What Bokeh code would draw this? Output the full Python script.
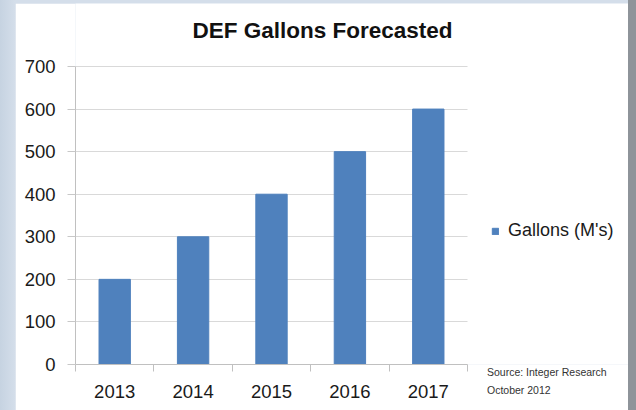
from bokeh.plotting import figure
from bokeh.models import Range1d, FixedTicker, Legend, LegendItem, Div, Label
from bokeh.layouts import column
from bokeh.embed import file_html
from bokeh.resources import INLINE

# ---- data ----
years = ["2013", "2014", "2015", "2016", "2017"]
gallons = [200, 300, 400, 500, 600]
y_ticks = [0, 100, 200, 300, 400, 500, 600, 700]
title_text = "DEF Gallons Forecasted"
series_name = "Gallons (M's)"
source_lines = ["Source: Integer Research", "October 2012"]

positions = [i + 0.5 for i in range(len(years))]
bounds = [i for i in range(len(years) + 1)]
n = len(years)
y_max = y_ticks[-1]

FONT = "Liberation Sans"
BAR = "#4f81bd"

# the plot frame spans the whole white panel so the title and legend sit in it;
# the category axis covers 392 of its 553 px, the value axis 298 of its 361 px
p = figure(width=613, height=407, output_backend="svg", toolbar_location=None,
           title=None,
           x_range=Range1d(0, n * 553 / 392), y_range=Range1d(0, y_max * 361 / 298),
           min_border_left=60, min_border_right=0, min_border_top=0,
           min_border_bottom=46)
p.margin = (3, 8, 0, 15)
p.background_fill_color = "white"
p.border_fill_color = "white"
p.outline_line_color = None

# bars
r = p.vbar(x=positions, top=gallons, width=0.4, fill_color=BAR, line_color=BAR)

# y axis
ya = p.yaxis[0]
ya.bounds = (0, y_max)
ya.ticker = FixedTicker(ticks=y_ticks)
ya.axis_line_color = "#c0c0c0"
ya.major_tick_line_color = "#c8c8c8"
ya.major_tick_out = 8
ya.major_tick_in = 0
ya.minor_tick_line_color = None
ya.major_label_standoff = 12
ya.major_label_text_font = FONT
ya.major_label_text_font_size = "18.5px"
ya.major_label_text_color = "#1a1a1a"

# x axis
xa = p.xaxis[0]
xa.bounds = (0, n)
xa.ticker = FixedTicker(ticks=positions, minor_ticks=bounds)
xa.major_label_overrides = {pos: yr for pos, yr in zip(positions, years)}
xa.axis_line_color = "#c0c0c0"
xa.major_tick_line_color = None
xa.major_tick_out = 0
xa.major_tick_in = 0
xa.minor_tick_line_color = "#c0c0c0"
xa.minor_tick_out = 7
xa.minor_tick_in = 0
xa.major_label_standoff = 13
xa.major_label_text_font = FONT
xa.major_label_text_font_size = "18.5px"
xa.major_label_text_color = "#1a1a1a"

# grid
p.xgrid.grid_line_color = None
p.ygrid.grid_line_color = "#d9d9d9"
p.ygrid.ticker = FixedTicker(ticks=y_ticks)
try:
    p.ygrid.cross_bounds = (0, n)
except AttributeError:
    pass

# title
p.add_layout(Label(x=117, y=334, x_units="screen", y_units="screen",
                   text=title_text, text_font=FONT, text_font_size="22.5px",
                   text_font_style="bold", text_color="#111111",
                   text_baseline="alphabetic", text_align="left"))

# legend
legend = Legend(items=[LegendItem(label=series_name, renderers=[r])],
                location=(416, 123), padding=0, margin=0, spacing=0,
                glyph_width=8, glyph_height=8, label_standoff=9,
                label_text_font=FONT, label_text_font_size="18px",
                label_text_color="#1a1a1a",
                border_line_color=None, background_fill_alpha=0)
p.add_layout(legend, "center")

# source note
source = Div(text="<br>".join(source_lines),
             styles={"position": "absolute", "left": "482px", "top": "358px",
                     "font-family": FONT, "font-size": "10.5px",
                     "line-height": "18px", "color": "#333333",
                     "white-space": "nowrap"})

page = column(p, source,
              styles={"background": "linear-gradient(to right, #c6d3e1 0px, "
                      "#d4deea 15px, #d4deea 628px, #8e949a 628px, #8e949a 636px)"})

open("out.html", "w").write(file_html(page, INLINE))
